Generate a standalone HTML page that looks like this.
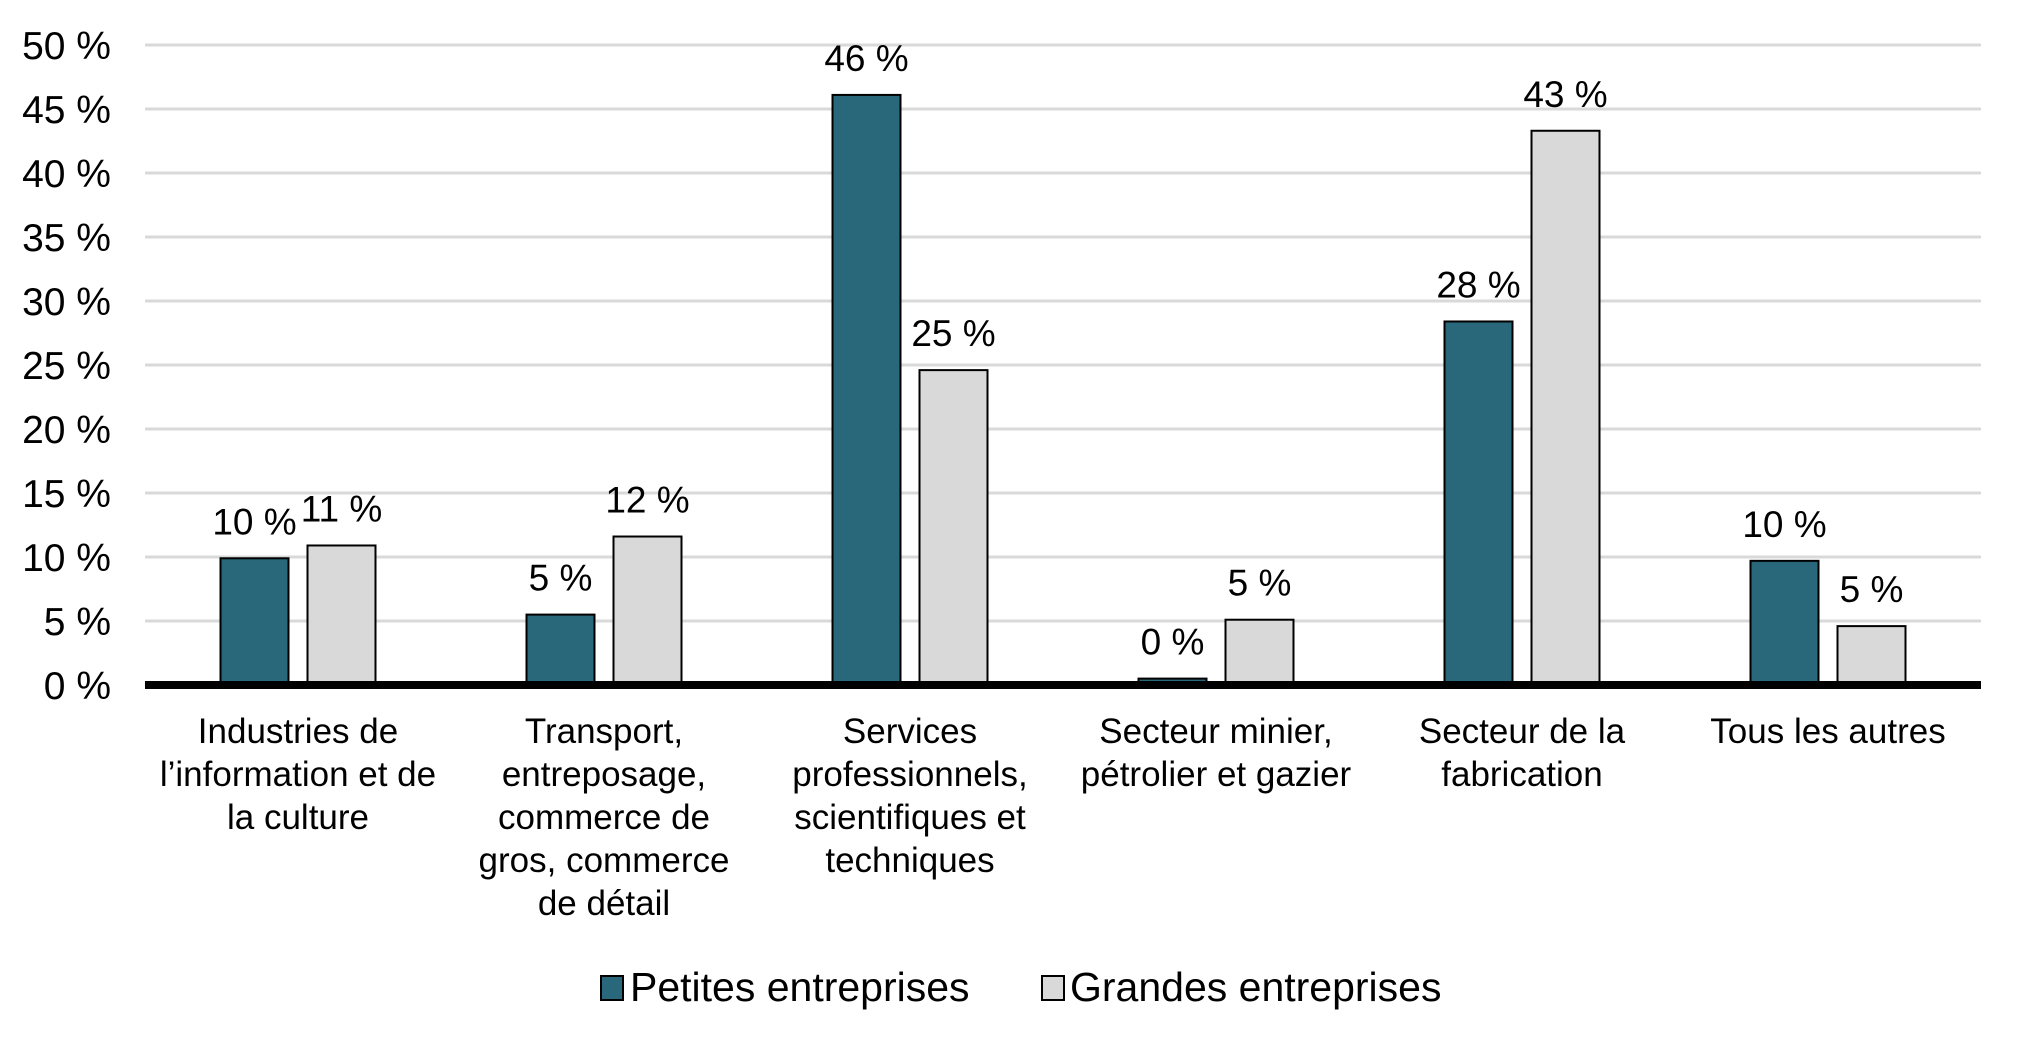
<!DOCTYPE html>
<html><head><meta charset="utf-8"><style>
html,body{margin:0;padding:0;background:#fff;}
svg{display:block;font-family:"Liberation Sans",Arial,sans-serif;}
</style></head><body>
<svg id="chart" width="2028" height="1046" viewBox="0 0 2028 1046" xmlns="http://www.w3.org/2000/svg">
<g id="grid"></g>
<g id="yaxis"></g>
<g id="bars"></g>
<g id="xaxis"></g>
<g id="legend">
  <g>
    <rect x="601" y="976" width="22" height="24" fill="#29677a" stroke="#000" stroke-width="2"></rect>
    <text x="630" y="1001" font-size="41">Petites entreprises</text>
  </g>
  <g>
    <rect x="1042" y="976" width="22" height="24" fill="#d9d9d9" stroke="#000" stroke-width="2"></rect>
    <text x="1070" y="1001" font-size="41">Grandes entreprises</text>
  </g>
</g>
</svg>
<script>
const categories = [
  ["Industries de","l’information et de","la culture"],
  ["Transport,","entreposage,","commerce de","gros, commerce","de détail"],
  ["Services","professionnels,","scientifiques et","techniques"],
  ["Secteur minier,","pétrolier et gazier"],
  ["Secteur de la","fabrication"],
  ["Tous les autres"]
];
const petites = [9.9, 5.5, 46.1, 0.5, 28.4, 9.7];
const grandes = [10.9, 11.6, 24.6, 5.1, 43.3, 4.6];
const petitesLabels = ["10 %","5 %","46 %","0 %","28 %","10 %"];
const grandesLabels = ["11 %","12 %","25 %","5 %","43 %","5 %"];
const yTicks = [0,5,10,15,20,25,30,35,40,45,50];
const yTickLabels = ["0 %","5 %","10 %","15 %","20 %","25 %","30 %","35 %","40 %","45 %","50 %"];

const NS = "http://www.w3.org/2000/svg";
const plotL = 145, plotR = 1981, y0 = 685, y50 = 45;
const yMax = 50;
function y(v){ return y0 - (v / yMax) * (y0 - y50); }
const band = (plotR - plotL) / categories.length;
function xc(i){ return plotL + band * (i + 0.5); }
const barW = 68, gap = 19;

function mk(tag, attrs, parent){
  const el = document.createElementNS(NS, tag);
  for (const k in attrs) el.setAttribute(k, attrs[k]);
  parent.appendChild(el);
  return el;
}
const grid = document.getElementById('grid');
const yaxis = document.getElementById('yaxis');
const bars = document.getElementById('bars');
const xaxis = document.getElementById('xaxis');

yTicks.forEach((t, i) => {
  if (t > 0) {
    const g = mk('line', {x1: plotL, x2: plotR, y1: y(t), y2: y(t), stroke: '#d9d9d9', 'stroke-width': 3}, grid);
    
    
  }
  const tx = mk('text', {x: 111, y: y(t) + 14, 'font-size': 39, 'text-anchor': 'end', fill: '#000'}, yaxis);
  tx.textContent = yTickLabels[i];
  
  
});

categories.forEach((lines, i) => {
  const c = xc(i);
  const xs = c - gap / 2 - barW, xl = c + gap / 2;
  const b1 = mk('rect', {x: xs, y: y(petites[i]), width: barW, height: y0 - y(petites[i]), fill: '#29677a', stroke: '#000', 'stroke-width': 2}, bars);
  
  
  const b2 = mk('rect', {x: xl, y: y(grandes[i]), width: barW, height: y0 - y(grandes[i]), fill: '#d9d9d9', stroke: '#000', 'stroke-width': 2}, bars);
  
  
  const l1 = mk('text', {x: xs + barW / 2, y: y(petites[i]) - 24, 'font-size': 37, 'text-anchor': 'middle'}, bars);
  l1.textContent = petitesLabels[i];
  
  
  const l2 = mk('text', {x: xl + barW / 2, y: y(grandes[i]) - 24, 'font-size': 37, 'text-anchor': 'middle'}, bars);
  l2.textContent = grandesLabels[i];
  
  
  const ct = mk('text', {'font-size': 35, 'text-anchor': 'middle'}, xaxis);
  
  
  lines.forEach((ln, j) => {
    const ts = mk('tspan', {x: c, y: 743 + j * 43}, ct);
    ts.textContent = ln;
  });
});
const base = mk('line', {x1: plotL, x2: plotR, y1: y0, y2: y0, stroke: '#000', 'stroke-width': 8}, xaxis);


</script>
</body></html>
